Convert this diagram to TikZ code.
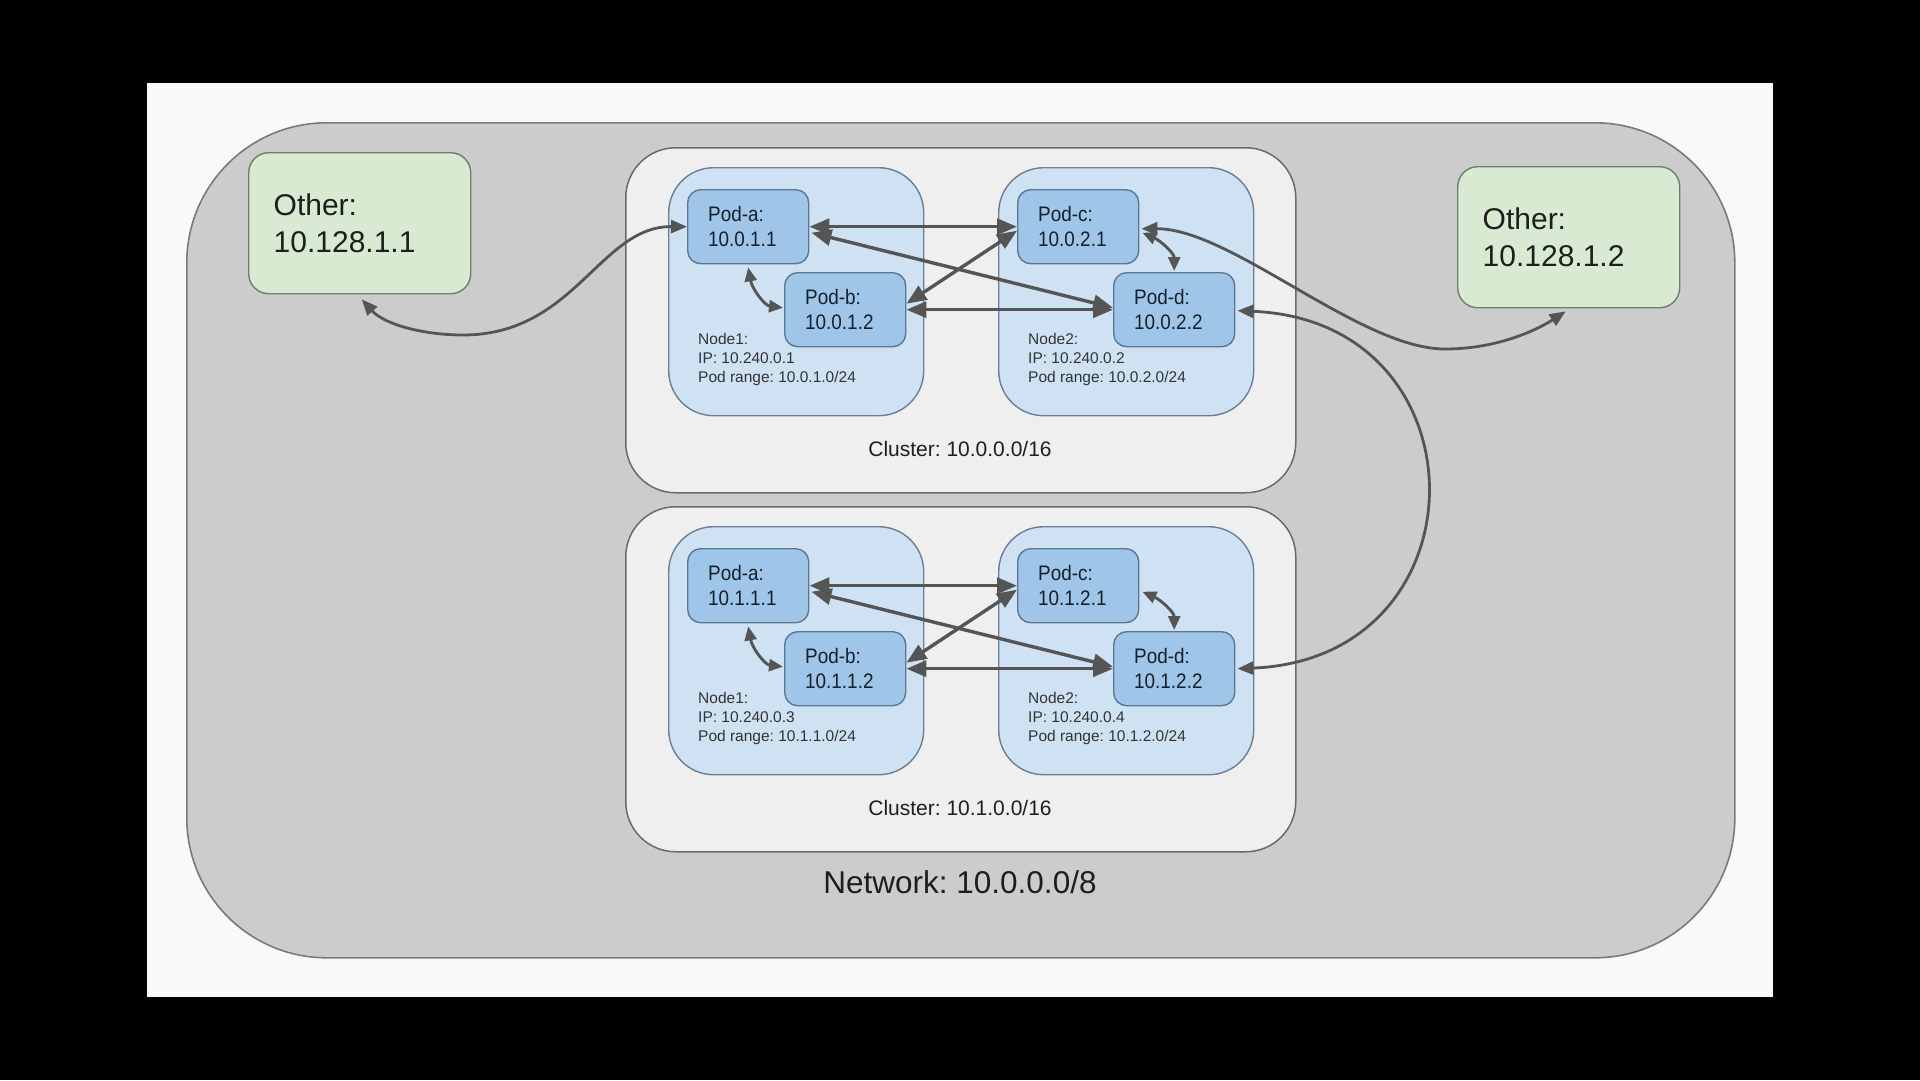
\documentclass[tikz,border=0pt]{standalone}
\usepackage{fontspec}
\setmainfont{Liberation Sans}
\newfontfamily\podfont[FakeStretch=0.9]{Liberation Sans}
\usetikzlibrary{arrows.meta,calc}
\frenchspacing

\definecolor{panel}{HTML}{F8F9FB}
\definecolor{netfill}{HTML}{CCCCCC}
\definecolor{netline}{HTML}{7A7A7A}
\definecolor{clfill}{HTML}{EFEFEF}
\definecolor{clline}{HTML}{6A6A6A}
\definecolor{ndfill}{HTML}{CFE2F3}
\definecolor{ndline}{HTML}{6A7F95}
\definecolor{podfill}{HTML}{9FC5E8}
\definecolor{podline}{HTML}{5B7791}
\definecolor{podtext}{HTML}{15202C}
\definecolor{othfill}{HTML}{D9EAD3}
\definecolor{othline}{HTML}{6E7E69}
\definecolor{linkc}{HTML}{555555}
\definecolor{txt}{HTML}{1E1E1E}
\definecolor{ndtxt}{HTML}{333333}

\begin{document}
\begin{tikzpicture}[x=1pt,y=-1pt,
  box/.style={anchor=north west, inner sep=0pt},
  netbox/.style={box, fill=netfill, draw=netline, line width=1.6pt, rounded corners=140pt},
  clusterbox/.style={box, fill=clfill, draw=clline, line width=1.5pt, rounded corners=50pt,
    minimum width=670pt, minimum height=345pt},
  nodebox/.style={box, fill=ndfill, draw=ndline, line width=1.4pt, rounded corners=45pt,
    minimum width=255pt, minimum height=248pt},
  podbox/.style={anchor=north west, fill=podfill, draw=podline, line width=1.4pt, rounded corners=13pt,
    minimum width=121pt, minimum height=74pt, inner xsep=20.5pt, inner ysep=0pt,
    text width=80pt, align=left, text=podtext, font=\podfont\fontsize{21}{25}\selectfont},
  otherbox/.style={anchor=north west, fill=othfill, draw=othline, line width=1.4pt, rounded corners=20pt,
    minimum width=222pt, minimum height=141pt, inner xsep=25pt, inner ysep=0pt,
    text width=172pt, align=left, text=txt, font=\fontsize{30}{37}\selectfont},
  ndlabel/.style={anchor=north west, inner sep=0pt, align=left, text=ndtxt,
    font=\fontsize{15.5}{19}\selectfont},
  cllabel/.style={anchor=base, inner sep=0pt, text=txt, font=\fontsize{21}{25}\selectfont},
  netlabel/.style={anchor=base, inner sep=0pt, text=txt, font=\fontsize{31.5}{36}\selectfont},
  link/.style={draw=linkc, line width=3.4pt, >={Triangle[length=20pt,width=16pt]}, <->},
  shortlink/.style={draw=linkc, line width=2.9pt, >={Triangle[length=14pt,width=12pt]}, <->},
  longlink/.style={draw=linkc, line width=2.8pt, >={Triangle[length=16pt,width=13pt]}, <->}
]
\useasboundingbox (0,0) rectangle (1920,1080);
\fill[black] (0,0) rectangle (1920,1080);
\fill[panel] (147,83) rectangle (1773,997);

% the enclosing network
\node[netbox, minimum width=1548pt, minimum height=835pt] (net) at (186,122) {};
\node[netlabel] (netlbl) at (960,893) {Network: 10.0.0.0/8};

% hosts outside the clusters
\node[otherbox] (o1) at (248,152) {Other:\\10.128.1.1};
\node[otherbox] (o2) at (1457,166) {Other:\\10.128.1.2};

% two clusters, each with two nodes and four pods
\foreach \k/\dy/\cn/\ipx/\ipy in {1/0/0/1/2, 2/359/1/3/4} {
  \node[clusterbox] (cl\k) at (625,{147+\dy}) {};
  \node[cllabel] (clt\k) at (960,{456+\dy}) {Cluster: 10.\cn.0.0/16};
  \node[nodebox] (nda\k) at (668,{167+\dy}) {};
  \node[nodebox] (ndb\k) at (998,{167+\dy}) {};
  \node[ndlabel] (ndat\k) at (698,{333+\dy}) {Node1:\\IP: 10.240.0.\ipx\\Pod range: 10.\cn.1.0/24};
  \node[ndlabel] (ndbt\k) at (1028,{333+\dy}) {Node2:\\IP: 10.240.0.\ipy\\Pod range: 10.\cn.2.0/24};
  \node[podbox] (pa\k) at (687,{189+\dy}) {Pod-a:\\10.\cn.1.1};
  \node[podbox] (pb\k) at (784,{272+\dy}) {Pod-b:\\10.\cn.1.2};
  \node[podbox] (pc\k) at (1017,{189+\dy}) {Pod-c:\\10.\cn.2.1};
  \node[podbox] (pd\k) at (1113,{272+\dy}) {Pod-d:\\10.\cn.2.2};
  % pod-to-pod routes
  \draw[link] (pa\k.east) -- (pc\k.west);
  \draw[link] (pb\k.east) -- (pd\k.west);
  \draw[link] ($(pa\k.east)+(2,6)$) -- ($(pd\k.west)+(0,-2)$);
  \draw[link] ($(pb\k.east)+(0,-6)$) -- ($(pc\k.west)+(0,4)$);
  \draw[shortlink] ($(pa\k.south)+(0,3)$) .. controls +(4,22) and +(-18,-2) .. ($(pb\k.west)+(-1,-2)$);
  \draw[shortlink] ($(pc\k.east)+(3,6)$) .. controls +(18,8) and +(0,-18) .. ($(pd\k.north)+(0,-1)$);
}

% routes leaving the clusters
\coordinate (lowA) at (463,335);
\coordinate (lowB) at (1445,349);
\draw[longlink] ($(o1.south)+(2,5)$) .. controls (385,325) and (425,335) .. (lowA)
  .. controls (575,335) and (600,226) .. (pa1.west);
\draw[longlink] ($(pc1.east)+(2,2)$) .. controls +(90,0) and (1360,349) .. (lowB)
  .. controls (1500,349) and (1540,328) .. ($(o2.south)+(-3,3)$);
\draw[longlink] ($(pd1.east)+(2,1)$) .. controls +(251,10) and +(251,-10) .. ($(pd2.east)+(2,0)$);
\end{tikzpicture}
\end{document}
